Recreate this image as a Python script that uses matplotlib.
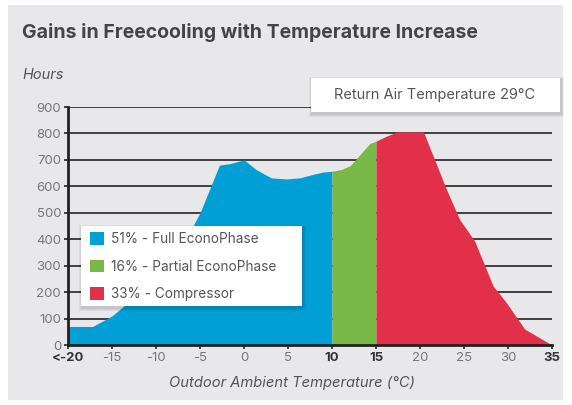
import numpy as np
import matplotlib
matplotlib.use("Agg")
import matplotlib.pyplot as plt
from matplotlib.patches import Patch, Rectangle

plt.rcParams['font.family'] = ['Inter', 'DejaVu Sans']

# data
temp = [-20, -17.2, -15, -13.4, -10, -7.5, -5.8, -5, -3.9, -2.8, -1.6, 0, 1.4, 3.1,
        4.8, 6.3, 7.8, 9, 10, 11.1, 12.1, 13.2, 14.3, 15, 16.2, 17.4, 20.4, 21.5,
        23, 24.5, 26.2, 28.3, 29.8, 31.9, 35]
hours = [70, 70, 110, 155, 290, 390, 450, 500, 590, 680, 686, 700, 663, 632,
         628, 632, 645, 654, 657, 664, 679, 721, 762, 771, 790, 806, 806, 714,
         589, 475, 394, 224, 161, 60, 0]
zones = [(-20, 10), (10, 15), (15, 35)]
zone_labels = ['51% - Full EconoPhase', '16% - Partial EconoPhase', '33% - Compressor']
zone_colors = ['#00a0d6', '#79b947', '#e3304a']
xticks = [-20, -15, -10, -5, 0, 5, 10, 15, 20, 25, 30, 35]
xticklabels = ['<-20', '-15', '-10', '-5', '0', '5', '10', '15', '20', '25', '30', '35']
bold_ticks = ['<-20', '10', '15', '35']

temp = np.array(temp)
hours = np.array(hours)

W, H = 572, 405


def box(x0, y0, x1, y1, color, z, alpha=1.0):
    # rectangle given in reference pixel coords (top-left origin)
    return Rectangle((x0/W, 1 - y1/H), (x1 - x0)/W, (y1 - y0)/H, transform=fig.transFigure,
                     facecolor=color, edgecolor='none', zorder=z, alpha=alpha)


def panel(x0, y0, x1, y1, z):
    # white panel with a soft shadow
    for d in (3, 2, 1):
        fig.patches.append(box(x0 - d + 1, y0 - d + 2, x1 + d + 1, y1 + d + 2, 'black', z, 0.05))
    fig.patches.append(box(x0, y0, x1, y1, 'white', z))


fig = plt.figure(figsize=(5.72, 4.05), dpi=100)
fig.patch.set_facecolor('white')
fig.patches.append(box(8, 5, 563, 400, '#e8e8eb', -10))

ax = fig.add_axes([68/W, 60/H, 484/W, 238/H])
ax.set_facecolor('none')

for (a, b), c in zip(zones, zone_colors):
    m = (temp >= a) & (temp <= b)
    ax.fill_between(temp[m], 0, hours[m], color=c, linewidth=0, zorder=2)

ax.set_xlim(-20, 35)
ax.set_ylim(0, 900)
ax.set_yticks(range(0, 901, 100))
ax.set_xticks(xticks)
ax.set_xticklabels(xticklabels)
for t in ax.get_xticklabels():
    if t.get_text() in bold_ticks:
        t.set_fontweight('bold')
        t.set_color('#333333')
    else:
        t.set_color('#777777')
for t in ax.get_yticklabels():
    t.set_color('#777777')
ax.tick_params(axis='both', labelsize=9.5, length=3, width=1.2, color='#222222', pad=2)
ax.grid(axis='y', color='#333333', linewidth=1.3, zorder=1)
ax.set_axisbelow(True)
for s in ['top', 'right']:
    ax.spines[s].set_visible(False)
for s in ['left', 'bottom']:
    ax.spines[s].set_color('#222222')
    ax.spines[s].set_linewidth(2)
    ax.spines[s].set_zorder(3)

fig.text(292/W, 1 - 383/H, 'Outdoor Ambient Temperature (°C)', fontsize=10.6,
         style='italic', color='#555555', ha='center', va='center')
fig.text(22/W, 1 - 75/H, 'Hours', fontsize=10.5, style='italic', color='#555555',
         va='center')
fig.text(22/W, 1 - 33/H, 'Gains in Freecooling with Temperature Increase',
         fontsize=14, fontweight='bold', color='#444444', va='center')

# annotation box
panel(311, 78, 560, 112, 5)
fig.text(435/W, 1 - 95/H, 'Return Air Temperature 29°C', fontsize=10.5, color='#555555',
         ha='center', va='center', zorder=6)

# legend panel
panel(81, 226, 302, 306, 5)
handles = [Patch(facecolor=c, edgecolor='none') for c in zone_colors]
leg = fig.legend(handles, zone_labels, loc='upper left',
                 bbox_to_anchor=(86/W, 1 - 228/H),
                 frameon=False, fontsize=9.8, labelcolor='#555555',
                 handlelength=1.05, handleheight=1.05, handletextpad=0.5,
                 borderpad=0.3, labelspacing=1.0, borderaxespad=0)
leg.set_zorder(6)

fig.savefig('out.png', dpi=100)
